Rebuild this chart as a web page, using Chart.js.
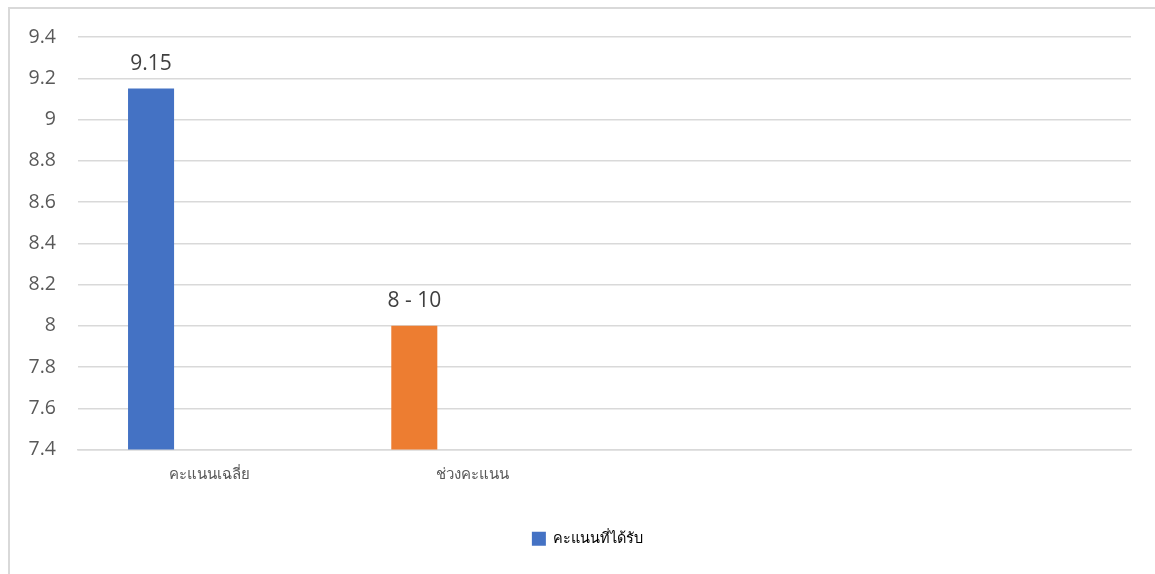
<!DOCTYPE html>
<html>
<head>
<meta charset="utf-8">
<script src="https://cdn.jsdelivr.net/npm/chart.js@4.4.1/dist/chart.umd.min.js"></script>
<style>
  html, body { margin: 0; padding: 0; background: #fff; overflow: hidden; }
  #frame { position: absolute; left: 8px; top: 7px; width: 1200px; height: 620px;
           border-left: 2px solid #d9d9d9; border-top: 2px solid #d9d9d9; }
  #wrap { position: absolute; left: 0; top: 0; width: 1155px; height: 574px; }
</style>
</head>
<body>
<div id="frame"></div>
<div id="wrap"><canvas id="chart"></canvas></div>
<script>
// data
const categories = ['คะแนนเฉลี่ย', 'ช่วงคะแนน', '', ''];
const scores = [9.15, 8, null, null];
const scoreLabels = ['9.15', '8 - 10', '', ''];
const barColors = ['#4472C4', '#ED7D31', '#4472C4', '#4472C4'];
const emptySeries = [null, null, null, null];
const seriesName = 'คะแนนที่ได้รับ';
const yMin = 7.4, yMax = 9.4, yStep = 0.2;

const TEXT = '#595959';
const FONT = "'Open Sans', 'Noto Sans', 'DejaVu Sans', sans-serif";

const barLabels = {
  id: 'barLabels',
  afterDatasetsDraw(chart) {
    const { ctx } = chart;
    const meta = chart.getDatasetMeta(0);
    ctx.save();
    ctx.font = '21px ' + FONT;
    ctx.fillStyle = '#404040';
    ctx.textAlign = 'center';
    ctx.textBaseline = 'middle';
    meta.data.forEach((bar, i) => {
      if (scores[i] == null) return;
      ctx.fillText(scoreLabels[i], bar.x, bar.y - 25);
    });
    ctx.restore();
  }
};

// the legend sits a bit right of the canvas centre in the original
const legendShift = {
  id: 'legendShift',
  afterLayout(chart) {
    chart.legend.left += 22;
    chart.legend.right += 22;
  }
};

new Chart(document.getElementById('chart'), {
  type: 'bar',
  data: {
    labels: categories,
    datasets: [
      { label: seriesName, data: scores, backgroundColor: barColors,
        categoryPercentage: 0.89, barPercentage: 0.393 },
      { label: '', data: emptySeries, backgroundColor: '#A5A5A5',
        categoryPercentage: 0.89, barPercentage: 0.393 }
    ]
  },
  options: {
    responsive: true, maintainAspectRatio: false, animation: false,
    layout: { padding: { top: 37, right: 24, bottom: 18, left: 0 } },
    plugins: {
      tooltip: { enabled: false },
      legend: {
        position: 'bottom',
        labels: {
          color: TEXT, font: { size: 14.5, family: FONT },
          boxWidth: 14, boxHeight: 14, padding: 10,
          generateLabels: () => [{
            text: seriesName, fillStyle: barColors[0], strokeStyle: barColors[0],
            lineWidth: 0, datasetIndex: 0, hidden: false
          }]
        }
      }
    },
    scales: {
      x: {
        grid: { display: false, drawTicks: false },
        border: { color: '#d9d9d9', width: 1.5 },
        ticks: { color: TEXT, font: { size: 15, family: FONT }, padding: 16, maxRotation: 0 },
        afterFit: s => { s.height = 72; }
      },
      y: {
        min: yMin, max: yMax,
        grid: { color: '#d9d9d9', lineWidth: 1.5, drawTicks: false },
        border: { display: false },
        ticks: {
          stepSize: yStep, padding: 22, color: TEXT,
          font: { size: 19.5, family: FONT },
          callback: v => String(Math.round(v * 10) / 10)
        },
        afterFit: s => { s.width = 78; }
      }
    }
  },
  plugins: [barLabels, legendShift]
});
</script>
</body>
</html>
